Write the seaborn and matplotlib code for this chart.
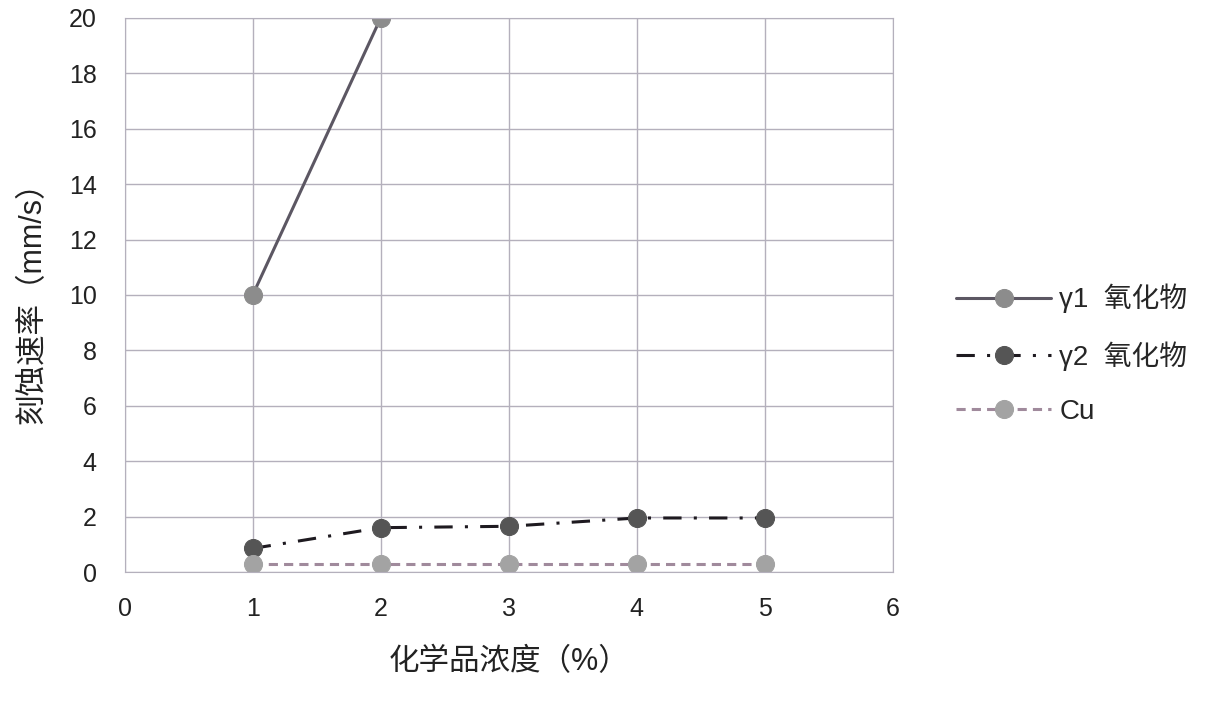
#!/usr/bin/env python
''' Etch rate vs chemical concentration.
'''

import pandas as pd
import seaborn as sns
import matplotlib.pyplot as plt

# Data.
conc_g1 = [1, 2]
rate_g1 = [10, 20]
conc_g2 = [1, 2, 3, 4, 5]
rate_g2 = [0.85, 1.6, 1.65, 1.95, 1.95]
conc_cu = [1, 2, 3, 4, 5]
rate_cu = [0.3, 0.3, 0.3, 0.3, 0.3]
labels = ['γ1  氧化物', 'γ2  氧化物', 'Cu']
x_ticks = [0, 1, 2, 3, 4, 5, 6]
y_ticks = [0, 2, 4, 6, 8, 10, 12, 14, 16, 18, 20]


def main():
    sns.set_style('white')
    plt.rcParams['font.family'] = ['Liberation Sans', 'Noto Sans CJK SC']

    fig = plt.figure(figsize=(12.1, 7.04), dpi=100)
    ax = fig.add_axes([0.103, 0.1875, 0.635, 0.787])

    series = [
        (conc_g1, rate_g1, '#5c5763', '-', '#8c8c8c'),
        (conc_g2, rate_g2, '#1e1a20', (0, (6, 4, 1, 4)), '#555555'),
        (conc_cu, rate_cu, '#a08a9c', (0, (3, 2)), '#a3a3a3'),
    ]
    for (xs, ys, lc, ls, mc), lab in zip(series, labels):
        df = pd.DataFrame({'x': xs, 'y': ys})
        sns.lineplot(data=df, x='x', y='y', ax=ax, color=lc, linewidth=2.2,
                     linestyle=ls, marker='o', markersize=13,
                     markerfacecolor=mc, markeredgecolor=mc, label=lab)

    ax.set_xlim(0, 6)
    ax.set_ylim(0, 20)
    ax.set_xticks(x_ticks)
    ax.set_yticks(y_ticks)
    ax.grid(True, color='#b4b0bc', linewidth=1)
    for sp in ax.spines.values():
        sp.set_color('#b4b0bc')
    ax.tick_params(axis='y', labelsize=18, colors='#222222', pad=20, length=0)
    ax.tick_params(axis='x', labelsize=18, colors='#222222', pad=18, length=0)
    ax.set_xlabel('化学品浓度（%）', fontsize=22, color='#222222')
    ax.set_ylabel('刻蚀速率（mm/s）', fontsize=22, color='#222222')
    ax.xaxis.set_label_coords(0.5, -0.135)
    ax.yaxis.set_label_coords(-0.10, 0.5)

    ax.legend(loc='center left', bbox_to_anchor=(1.05, 0.393), frameon=False,
              fontsize=20, handlelength=3.4, labelspacing=1.0,
              handletextpad=0.3)

    fig.savefig('out.png')


if __name__ == '__main__':
    main()
